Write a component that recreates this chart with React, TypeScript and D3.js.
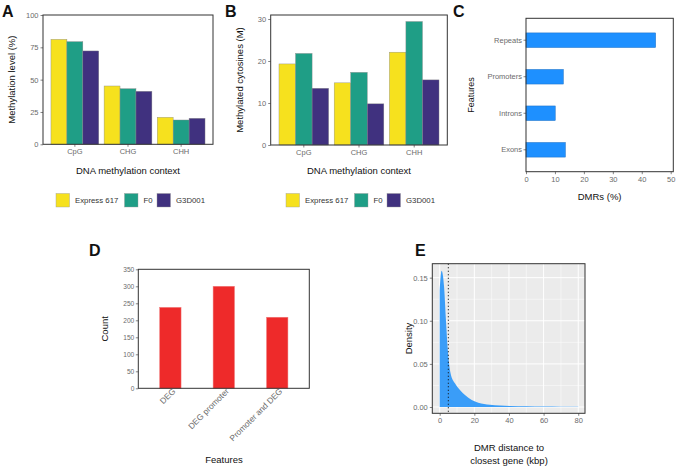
import React, { useRef, useEffect } from "react";
import * as d3 from "d3";

// panels A & B
const contexts = ["CpG", "CHG", "CHH"];
const lines = ["Express 617", "F0", "G3D001"];
const lineColors = ["#F6E11E", "#1F9E86", "#40317F"];
const levelExpress = [81.2, 45.1, 20.9];
const levelF0 = [79.4, 43.0, 18.8];
const levelG3 = [72.2, 41.0, 20.1];
const cytExpress = [19.3, 14.8, 22.1];
const cytF0 = [21.8, 17.3, 29.4];
const cytG3 = [13.5, 9.8, 15.5];

// panel C
const features = ["Repeats", "Promoters", "Introns", "Exons"];
const dmrPct = [44.8, 12.9, 10.1, 13.6];

// panel D
const degFeatures = ["DEG", "DEG promoter", "Promoter and DEG"];
const degCounts = [238, 300, 209];

// panel E
const distKbp = [0, 1.1, 2.5, 3.6, 4.4, 5.2, 6.3, 8.8, 11.7, 14.6, 18.5, 22.3, 29, 40.6, 50, 60, 70, 80];
const density = [0.135, 0.158, 0.14, 0.101, 0.074, 0.0545, 0.039, 0.0275, 0.0197, 0.0139, 0.0081, 0.005, 0.0027, 0.0012, 0.0008, 0.0005, 0.0004, 0.0003];
const medianKbp = 5;

const FONT = "'Liberation Sans', Arial, sans-serif";
const TICK_COLOR = "#6b6b6b";
const BORDER = "#333333";

type Sel = d3.Selection<SVGGElement, unknown, null, undefined>;

const styleAxis = (g: Sel, size = 7.5) => {
  g.select(".domain").remove();
  g.selectAll(".tick line").attr("stroke", BORDER).attr("stroke-width", 0.6);
  g.selectAll(".tick text")
    .attr("fill", TICK_COLOR)
    .attr("font-size", size)
    .attr("font-family", FONT);
};

const App: React.FC = () => {
  const svgRef = useRef<SVGSVGElement | null>(null);

  useEffect(() => {
    if (!svgRef.current) return;
    const svg = d3.select(svgRef.current);
    svg.selectAll("*").remove();

    const text = (
      x: number,
      y: number,
      s: string,
      size: number,
      opts: { anchor?: string; rotate?: boolean; bold?: boolean; fill?: string } = {}
    ) => {
      const t = svg
        .append("text")
        .attr("x", x)
        .attr("y", y)
        .attr("text-anchor", opts.anchor || "middle")
        .attr("font-size", size)
        .attr("font-family", FONT)
        .attr("font-weight", opts.bold ? "bold" : "normal")
        .attr("fill", opts.fill || "#111")
        .text(s);
      if (opts.rotate) t.attr("transform", `rotate(-90,${x},${y})`);
      return t;
    };

    const border = (l: number, r: number, t: number, b: number) =>
      svg
        .append("rect")
        .attr("x", l)
        .attr("y", t)
        .attr("width", r - l)
        .attr("height", b - t)
        .attr("fill", "none")
        .attr("stroke", BORDER)
        .attr("stroke-width", 1);

    // grouped bar panels (A, B)
    const grouped = (
      box: { l: number; r: number; t: number; b: number },
      yMax: number,
      ticks: number[],
      series: number[][],
      yTitle: string,
      legendX: number[]
    ) => {
      const x = d3.scaleBand().domain(contexts).range([box.l, box.r]).paddingInner(0).paddingOuter(0.1);
      const y = d3.scaleLinear().domain([0, yMax]).range([box.b, box.t]);
      const sub = d3
        .scaleBand()
        .domain(lines)
        .range([0, x.bandwidth() * 0.9]);

      svg.append("rect").attr("x", box.l).attr("y", box.t).attr("width", box.r - box.l).attr("height", box.b - box.t).attr("fill", "#fff");

      lines.forEach((ln, si) => {
        svg
          .append("g")
          .selectAll("rect")
          .data(contexts)
          .join("rect")
          .attr("x", (c) => (x(c) || 0) + x.bandwidth() * 0.05 + (sub(ln) || 0))
          .attr("width", sub.bandwidth())
          .attr("y", (c, i) => y(series[si][i]))
          .attr("height", (c, i) => y(0) - y(series[si][i]))
          .attr("fill", lineColors[si])
          .attr("stroke", "#8a8a8a")
          .attr("stroke-width", 0.4);
      });

      svg
        .append("g")
        .attr("transform", `translate(${box.l},0)`)
        .call(d3.axisLeft(y).tickValues(ticks).tickSize(2.5).tickPadding(2))
        .call((g) => styleAxis(g as Sel));
      svg
        .append("g")
        .attr("transform", `translate(0,${box.b})`)
        .call(d3.axisBottom(x).tickSize(2.5).tickPadding(2))
        .call((g) => styleAxis(g as Sel));
      border(box.l, box.r, box.t, box.b);

      text((box.l + box.r) / 2, 174, "DNA methylation context", 9.5);
      text(box.l - 28, (box.t + box.b) / 2, yTitle, 9.5, { rotate: true });

      // legend
      lines.forEach((ln, i) => {
        svg
          .append("rect")
          .attr("x", legendX[i])
          .attr("y", 193.5)
          .attr("width", 13.5)
          .attr("height", 13.5)
          .attr("fill", lineColors[i])
          .attr("stroke", "#9a9a9a")
          .attr("stroke-width", 0.4);
        text(legendX[i] + 19, 203.3, ln, 7.8, { anchor: "start", fill: "#333" });
      });
    };

    // A
    grouped(
      { l: 43, r: 213, t: 15, b: 144.3 },
      100,
      [0, 25, 50, 75, 100],
      [levelExpress, levelF0, levelG3],
      "Methylation level (%)",
      [56, 124.5, 157]
    );
    text(2, 17, "A", 16, { anchor: "start", bold: true });

    // B
    grouped(
      { l: 270.7, r: 447.3, t: 15, b: 145 },
      30.95,
      [0, 10, 20, 30],
      [cytExpress, cytF0, cytG3],
      "Methylated cytosines (M)",
      [286, 354.5, 387]
    );
    text(225, 17, "B", 16, { anchor: "start", bold: true });

    // C
    {
      const box = { l: 526, r: 673.3, t: 18.3, b: 171.7 };
      const x = d3.scaleLinear().domain([0, 50.9]).range([box.l, box.r]);
      const y = d3.scaleBand().domain(features).range([box.t, box.b]).paddingInner(0).paddingOuter(0.1);
      svg
        .append("g")
        .selectAll("rect")
        .data(features)
        .join("rect")
        .attr("x", x(0))
        .attr("y", (f) => (y(f) || 0) + y.bandwidth() * 0.3)
        .attr("height", y.bandwidth() * 0.4)
        .attr("width", (f, i) => x(dmrPct[i]) - x(0))
        .attr("fill", "#1E90FF")
        .attr("stroke", "#1a6fc4")
        .attr("stroke-width", 0.5);
      svg
        .append("g")
        .attr("transform", `translate(${box.l},0)`)
        .call(d3.axisLeft(y).tickSize(2.5).tickPadding(1.5))
        .call((g) => styleAxis(g as Sel));
      svg
        .append("g")
        .attr("transform", `translate(0,${box.b})`)
        .call(d3.axisBottom(x).tickValues([0, 10, 20, 30, 40, 50]).tickSize(2.5).tickPadding(2))
        .call((g) => styleAxis(g as Sel));
      border(box.l, box.r, box.t, box.b);
      text(599.6, 200, "DMRs (%)", 9.5);
      text(474, (box.t + box.b) / 2, "Features", 9, { rotate: true });
      text(453, 17, "C", 16, { anchor: "start", bold: true });
    }

    // D
    {
      const box = { l: 138.3, r: 309.3, t: 269.3, b: 388.3 };
      const x = d3.scaleBand().domain(degFeatures).range([box.l, box.r]).paddingInner(0).paddingOuter(0.1);
      const y = d3.scaleLinear().domain([0, 350]).range([box.b, box.t]);
      svg
        .append("g")
        .selectAll("rect")
        .data(degFeatures)
        .join("rect")
        .attr("x", (f) => (x(f) || 0) + x.bandwidth() * 0.3)
        .attr("width", x.bandwidth() * 0.4)
        .attr("y", (f, i) => y(degCounts[i]))
        .attr("height", (f, i) => y(0) - y(degCounts[i]))
        .attr("fill", "#EE2A2A")
        .attr("stroke", "#f07a7a")
        .attr("stroke-width", 0.5);
      svg
        .append("g")
        .attr("transform", `translate(${box.l},0)`)
        .call(d3.axisLeft(y).tickValues(d3.range(0, 351, 50)).tickSize(2.5).tickPadding(1.5))
        .call((g) => styleAxis(g as Sel, 6.6));
      const xa = svg
        .append("g")
        .attr("transform", `translate(0,${box.b})`)
        .call(d3.axisBottom(x).tickSize(0).tickPadding(2))
        .call((g) => styleAxis(g as Sel, 8.3));
      xa.selectAll(".tick text")
        .attr("text-anchor", "end")
        .attr("dy", "0")
        .attr("y", 6.5)
        .attr("x", 1.5)
        .attr("transform", "rotate(-45)");
      border(box.l, box.r, box.t, box.b);
      text(224, 463, "Features", 9.5);
      text(108, (box.t + box.b) / 2, "Count", 9.5, { rotate: true });
      text(89, 256, "D", 16, { anchor: "start", bold: true });
    }

    // E
    {
      const box = { l: 432.3, r: 585, t: 263.7, b: 413.3 };
      const x = d3.scaleLinear().domain([-4.27, 83.9]).range([box.l, box.r]);
      const y = d3.scaleLinear().domain([-0.0073, 0.1662]).range([box.b, box.t]);
      svg.append("rect").attr("x", box.l).attr("y", box.t).attr("width", box.r - box.l).attr("height", box.b - box.t).attr("fill", "#EBEBEB");
      const grid = svg.append("g");
      [0.025, 0.075, 0.125].forEach((v) =>
        grid.append("line").attr("x1", box.l).attr("x2", box.r).attr("y1", y(v)).attr("y2", y(v)).attr("stroke", "#fff").attr("stroke-width", 0.5)
      );
      [10, 30, 50, 70].forEach((v) =>
        grid.append("line").attr("y1", box.t).attr("y2", box.b).attr("x1", x(v)).attr("x2", x(v)).attr("stroke", "#fff").attr("stroke-width", 0.5)
      );
      [0, 0.05, 0.1, 0.15].forEach((v) =>
        grid.append("line").attr("x1", box.l).attr("x2", box.r).attr("y1", y(v)).attr("y2", y(v)).attr("stroke", "#fff").attr("stroke-width", 1)
      );
      [0, 20, 40, 60, 80].forEach((v) =>
        grid.append("line").attr("y1", box.t).attr("y2", box.b).attr("x1", x(v)).attr("x2", x(v)).attr("stroke", "#fff").attr("stroke-width", 1)
      );
      const pts = distKbp.map((d, i) => [d, density[i]] as [number, number]);
      const area = d3
        .area<[number, number]>()
        .x((d) => x(d[0]))
        .y0(y(0))
        .y1((d) => y(d[1]))
        .curve(d3.curveMonotoneX);
      svg.append("path").datum(pts).attr("d", area).attr("fill", "#3A9DF8");
      svg
        .append("line")
        .attr("x1", x(medianKbp))
        .attr("x2", x(medianKbp))
        .attr("y1", box.t)
        .attr("y2", box.b)
        .attr("stroke", "#111")
        .attr("stroke-width", 1.1)
        .attr("stroke-dasharray", "1 2.5");
      svg
        .append("g")
        .attr("transform", `translate(${box.l},0)`)
        .call(d3.axisLeft(y).tickValues([0, 0.05, 0.1, 0.15]).tickFormat(d3.format(".2f")).tickSize(2.5).tickPadding(2))
        .call((g) => styleAxis(g as Sel));
      svg
        .append("g")
        .attr("transform", `translate(0,${box.b})`)
        .call(d3.axisBottom(x).tickValues([0, 20, 40, 60, 80]).tickSize(2.5).tickPadding(2))
        .call((g) => styleAxis(g as Sel));
      border(box.l, box.r, box.t, box.b);
      text(509, 451, "DMR distance to", 9.5);
      text(509, 463.5, "closest gene (kbp)", 9.5);
      text(412, (box.t + box.b) / 2, "Density", 9.5, { rotate: true });
      text(415, 256, "E", 16, { anchor: "start", bold: true });
    }
  }, []);

  return (
    <div style={{ position: "absolute", left: 0, top: 0, background: "#fff" }}>
      <svg ref={svgRef} width={676} height={467} />
    </div>
  );
};

export default App;
